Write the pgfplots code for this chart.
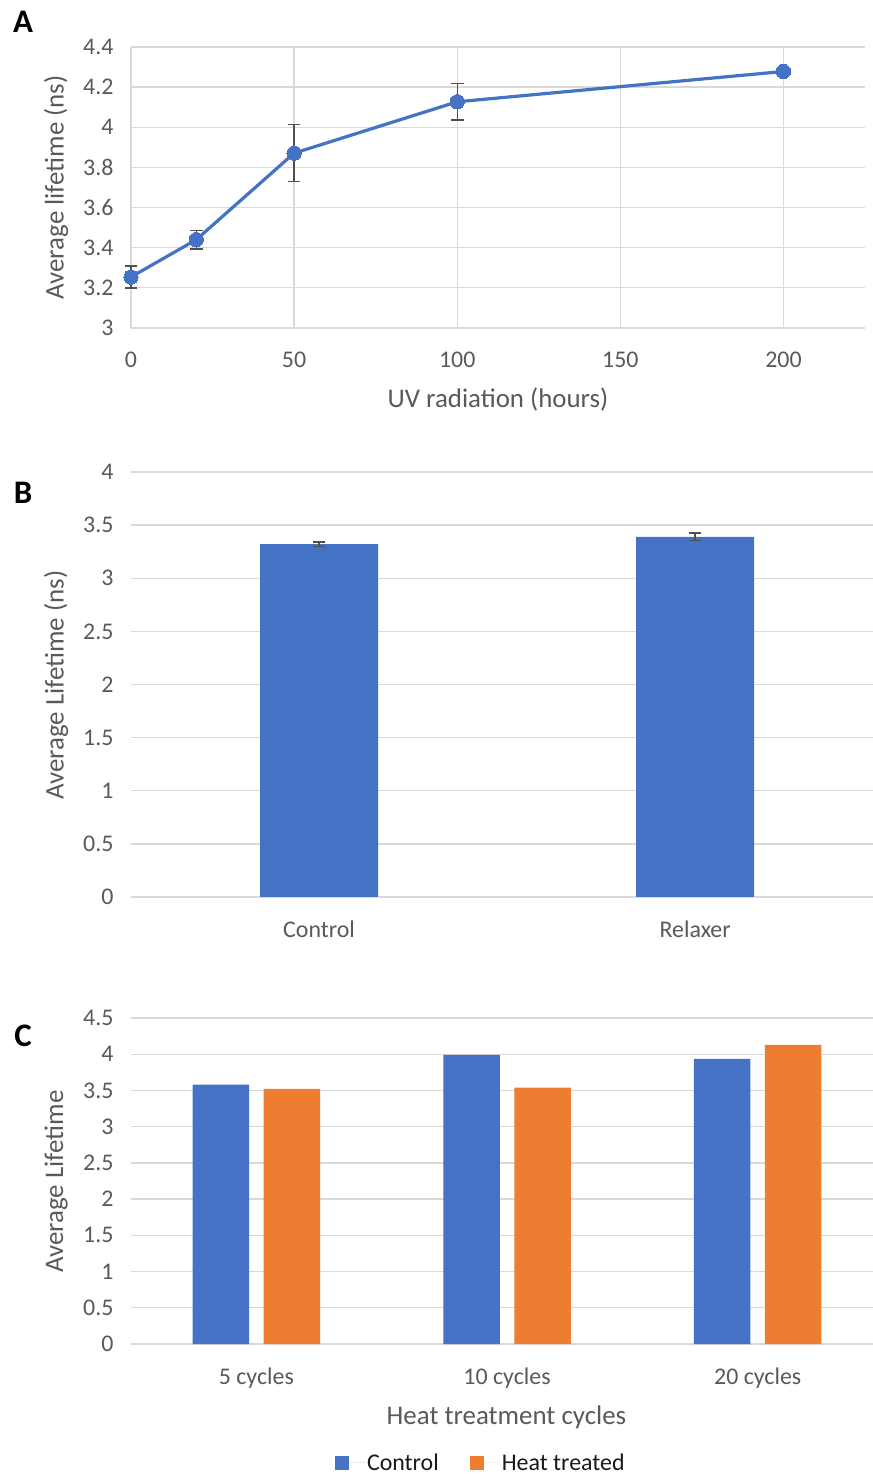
\documentclass[border=0pt]{standalone}
\usepackage{pgfplots}
\pgfplotsset{compat=1.18}
\usepackage{fontspec}
\setmainfont{Carlito}
\definecolor{xblue}{HTML}{4472C4}
\definecolor{xorange}{HTML}{ED7D31}
\definecolor{xgrid}{HTML}{D9D9D9}
\definecolor{xtext}{HTML}{595959}
\definecolor{xerr}{HTML}{505050}
\pgfplotsset{
  base/.style={
    scale only axis,
    anchor=south west,
    axis line style={draw=none},
    major tick length=0pt,
    tick style={draw=none},
    grid style={xgrid, line width=1.3bp},
    /pgf/number format/assume math mode=true,
    tick label style={font=\fontsize{24}{28}\selectfont, text=xtext},
    label style={font=\fontsize{27}{31}\selectfont, text=xtext},
    yticklabel style={xshift=-14bp},
    xticklabel style={yshift=-20bp},
    clip=false,
  }
}
\begin{document}
\begin{tikzpicture}
\path[use as bounding box] (0,0) rectangle (873bp,1477bp);
% Panel A
\begin{axis}[base, at={(131bp,1149bp)}, width=734bp, height=281bp,
  xmin=0, xmax=225, ymin=3, ymax=4.4,
  xtick={0,50,100,150,200}, ytick={3,3.2,3.4,3.6,3.8,4,4.2,4.4},
  grid=major,
  xlabel={UV radiation (hours)}, ylabel={Average lifetime (ns)},
  xlabel style={at={(axis description cs:0.5,-0.256)}, anchor=center},
  ylabel style={at={(axis description cs:-0.102,0.5)}, anchor=center}]
\addplot[xblue, line width=3.2bp, mark=*, mark size=7.2bp,
  mark options={fill=xblue, draw=xblue, line width=0pt},
  error bars/.cd, y dir=both, y explicit,
  error bar style={xerr, line width=1.3bp},
  error mark options={xerr, line width=1.3bp, mark size=6.3bp, rotate=90}]
  coordinates {(0,3.254) +- (0,0.055) (20,3.44) +- (0,0.047) (50,3.871) +- (0,0.142) (100,4.127) +- (0,0.091) (200,4.278) +- (0,0)};
\end{axis}
% Panel B
\begin{axis}[base, at={(131bp,580bp)}, width=742bp, height=425bp,
  xmin=-0.5, xmax=1.473, ymin=0, ymax=4,
  ytick={0,0.5,1,1.5,2,2.5,3,3.5,4}, xtick={0,1}, xticklabels={Control,Relaxer},
  ymajorgrids,
  ylabel={Average Lifetime (ns)},
  ylabel style={at={(axis description cs:-0.101,0.498)}, anchor=center}]
\addplot[ybar, bar width=118bp, fill=xblue, draw=none,
  error bars/.cd, y dir=both, y explicit,
  error bar style={xerr, line width=1.3bp},
  error mark options={xerr, line width=1.3bp, mark size=6bp, rotate=90}]
  coordinates {(0,3.32) +- (0,0.02) (1,3.39) +- (0,0.035)};
\end{axis}
% Panel C
\begin{axis}[base, at={(131bp,133bp)}, width=742bp, height=326bp,
  xmin=-0.5, xmax=2.46, ymin=0, ymax=4.5,
  ytick={0,0.5,1,1.5,2,2.5,3,3.5,4,4.5}, xtick={0,1,2},
  xticklabels={5 cycles,10 cycles,20 cycles},
  ymajorgrids,
  xlabel={Heat treatment cycles}, ylabel={Average Lifetime},
  xlabel style={at={(axis description cs:0.506,-0.225)}, anchor=center},
  ylabel style={at={(axis description cs:-0.101,0.498)}, anchor=center},
  legend columns=2,
  legend style={at={(axis description cs:0.275,-0.365)}, anchor=west, draw=none,
    inner sep=0pt, outer sep=0pt,
    font=\fontsize{24}{28}\selectfont, text=black!90,
    /tikz/every even column/.append style={column sep=29bp}},
  legend image code/.code={\fill[#1] (0bp,-7bp) rectangle (14bp,7bp);
    \path (0bp,0bp) -- (30bp,0bp);}]
\addplot[ybar, bar width=56.5bp, bar shift=-35.5bp, fill=xblue, draw=none]
  coordinates {(0,3.58) (1,3.99) (2,3.935)};
\addplot[ybar, bar width=56.5bp, bar shift=35.5bp, fill=xorange, draw=none]
  coordinates {(0,3.52) (1,3.54) (2,4.13)};
\legend{Control, Heat treated}
\end{axis}
\node[font=\bfseries\fontsize{33}{37}\selectfont] at (23bp,1455bp) {A};
\node[font=\bfseries\fontsize{33}{37}\selectfont] at (23bp,984bp) {B};
\node[font=\bfseries\fontsize{33}{37}\selectfont] at (23bp,441bp) {C};
\end{tikzpicture}
\end{document}
